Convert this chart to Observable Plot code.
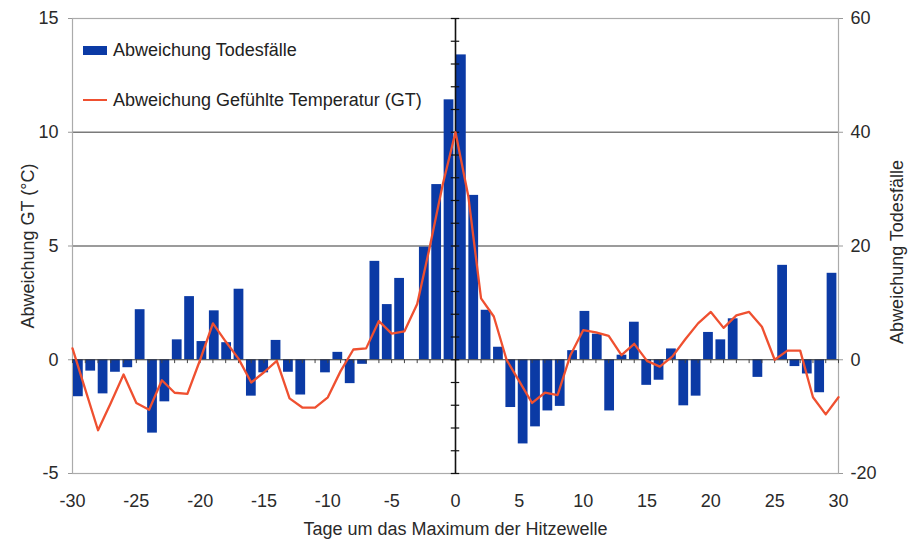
<!DOCTYPE html>
<html>
<head>
<meta charset="utf-8">
<script src="https://cdn.jsdelivr.net/npm/d3@7"></script>
<script src="https://cdn.jsdelivr.net/npm/@observablehq/plot@0.6"></script>
<style>
  html, body { margin: 0; padding: 0; background: #fff; }
  #wrap { position: relative; width: 912px; height: 541px; font-family: "Liberation Sans", Arial, sans-serif; }
  #legend { position: absolute; left: 83px; top: 38px; font-size: 18px; color: #222; }
  .item { position: absolute; white-space: nowrap; display: flex; align-items: center; height: 24px; }
  .sw { width: 24px; margin-right: 6px; }
</style>
</head>
<body>
<div id="wrap">
  <div id="chart"></div>
  <div id="legend"></div>
</div>
<script>
// Days around the heatwave maximum (x axis)
const days = [-30,-29,-28,-27,-26,-25,-24,-23,-22,-21,-20,-19,-18,-17,-16,-15,-14,-13,-12,-11,
              -10,-9,-8,-7,-6,-5,-4,-3,-2,-1,0,1,2,3,4,5,6,7,8,9,10,11,12,13,14,15,16,17,18,19,
              20,21,22,23,24,25,26,27,28,29,30];
// Abweichung Gefühlte Temperatur (GT), °C, one value per day
const gt = [0.5,-1.3,-3.1,-1.9,-0.65,-1.9,-2.2,-0.9,-1.45,-1.5,
            0.0,1.6,0.8,0.05,-1.0,-0.55,-0.05,-1.7,-2.1,-2.1,
            -1.65,-0.5,0.45,0.5,1.7,1.15,1.25,2.45,5.0,7.7,
            10.0,7.2,2.7,1.9,0.0,-0.95,-1.9,-1.45,-1.55,0.2,
            1.3,1.2,1.05,0.2,0.7,-0.05,-0.3,0.15,0.9,1.6,
            2.1,1.4,1.95,2.1,1.45,0.0,0.4,0.4,-1.65,-2.4,-1.65];
// Abweichung Todesfälle (62 columns spread over the day axis)
const deaths = [-6.5,-2.0,-6.0,-2.2,-1.4,8.8,-12.9,-7.4,3.5,11.1,
                3.2,8.6,3.0,12.4,-6.4,-2.3,3.4,-2.2,-6.2,0,
                -2.3,1.3,-4.2,-0.8,17.3,9.7,14.3,0,19.8,30.8,45.7,
                53.6,28.9,8.7,2.2,-8.4,-14.8,-11.8,-9.0,-8.2,1.6,
                8.5,4.5,-9.0,0.8,6.6,-4.5,-3.6,1.9,-8.1,-6.4,
                4.8,3.5,7.2,0,-3.1,0,16.6,-1.2,-2.5,-5.8,15.2];
const xTicks = [-30,-25,-20,-15,-10,-5,0,5,10,15,20,25,30];
const gtTicks = [-5,0,5,10,15];
const gtMinor = [-5,-4,-3,-2,-1,0,1,2,3,4,5,6,7,8,9,10,11,12,13,14,15];
const gridLines = [5,10];
const deathsPerDegree = 4; // right axis = 4 × left axis
const xTitle = "Tage um das Maximum der Hitzewelle";
const yTitleLeft = "Abweichung GT (°C)";
const yTitleRight = "Abweichung Todesfälle";
const legendItems = [
  {label: "Abweichung Todesfälle", type: "bar"},
  {label: "Abweichung Gefühlte Temperatur (GT)", type: "line"}
];

const barColor = "#0b3aa5";
const lineColor = "#ef5030";
const n = deaths.length;
const x0 = days[0], span = days[days.length - 1] - days[0];

const chart = Plot.plot({
  width: 912,
  height: 541,
  marginLeft: 72,
  marginRight: 74,
  marginTop: 18,
  marginBottom: 68,
  x: {domain: [days[0], days[days.length - 1]]},
  y: {domain: [-5, 15]},
  style: {fontFamily: "Liberation Sans, Arial, sans-serif", fontSize: "18px", color: "#2a2a2a", background: "white"},
  marks: [
    Plot.ruleY(gridLines, {stroke: "#7a7a7a", strokeWidth: 1.4}),
    Plot.frame({stroke: "#ababab", strokeWidth: 1.2}),
    Plot.rect(deaths, {
      x1: (d, i) => x0 + i * span / n,
      x2: (d, i) => x0 + (i + 1) * span / n,
      y1: 0,
      y2: d => d / deathsPerDegree,
      fill: barColor,
      insetLeft: 1,
      insetRight: 1.6
    }),
    Plot.ruleY([0], {stroke: "#333", strokeWidth: 1.2}),
    Plot.ruleX(days, {x: d => d, y1: 0, y2: -0.17, stroke: "#444"}),
    Plot.ruleX([0], {stroke: "#111", strokeWidth: 1.6}),
    Plot.ruleY(gtMinor, {y: d => d, x1: -0.33, x2: 0.33, stroke: "#111", strokeWidth: 1.2}),
    Plot.line(days, {x: d => d, y: (d, i) => gt[i], stroke: lineColor, strokeWidth: 2.3, strokeLinejoin: "round"}),
    Plot.axisY({anchor: "left", ticks: gtTicks, tickSize: 4, tickPadding: 10, tickFormat: d => String(d), label: null, stroke: "#999"}),
    Plot.axisY({anchor: "right", ticks: gtTicks, tickSize: 4, tickPadding: 8, tickFormat: d => String(d * deathsPerDegree), label: null, stroke: "#999"}),
    Plot.axisX({anchor: "bottom", ticks: xTicks, tickSize: 0, tickPadding: 21, tickFormat: d => String(d), label: null}),
    Plot.text([xTitle], {text: d => d, frameAnchor: "bottom", dy: 56, textAnchor: "middle", lineAnchor: "middle", fontSize: 18, fill: "#2a2a2a"}),
    Plot.text([yTitleLeft], {text: d => d, frameAnchor: "left", dx: -44, rotate: -90, textAnchor: "middle", lineAnchor: "middle", fontSize: 18, fill: "#2a2a2a"}),
    Plot.text([yTitleRight], {text: d => d, frameAnchor: "right", dx: 59, dy: 6, rotate: -90, textAnchor: "middle", lineAnchor: "middle", fontSize: 18, fill: "#2a2a2a"})
  ]
});
document.getElementById("chart").appendChild(chart);

const legend = document.getElementById("legend");
legendItems.forEach((it, k) => {
  const row = document.createElement("div");
  row.className = "item";
  row.style.top = (k * 50) + "px";
  const sw = document.createElement("div");
  sw.className = "sw";
  if (it.type === "bar") { sw.style.height = "9px"; sw.style.background = barColor; }
  else { sw.style.height = "2.5px"; sw.style.background = lineColor; }
  const t = document.createElement("span");
  t.textContent = it.label;
  row.appendChild(sw);
  row.appendChild(t);
  legend.appendChild(row);
});
</script>
</body>
</html>
